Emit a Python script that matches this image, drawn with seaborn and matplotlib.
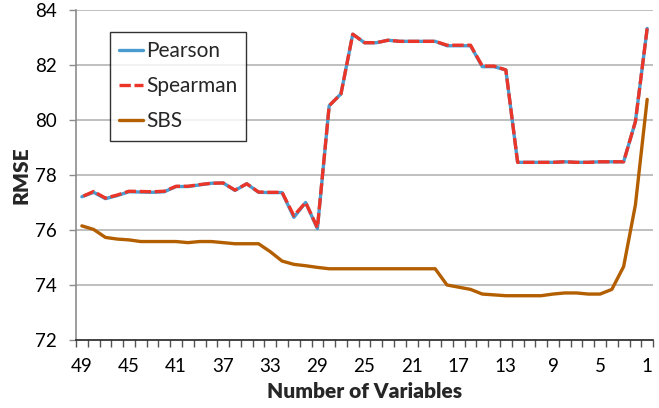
import matplotlib
matplotlib.use("Agg")
import matplotlib.pyplot as plt
import numpy as np
import pandas as pd
import seaborn as sns
from matplotlib.ticker import FixedLocator

n_vars = list(range(49, 0, -1))

pearson = [77.21, 77.37, 77.14, 77.25, 77.39, 77.38, 77.37, 77.39, 77.58, 77.58,
           77.64, 77.70, 77.71, 77.44, 77.68, 77.37, 77.36, 77.36, 76.46, 77.00,
           76.05, 80.52, 80.95, 83.12, 82.81, 82.81, 82.90, 82.86, 82.86, 82.86,
           82.86, 82.70, 82.70, 82.70, 81.94, 81.94, 81.82, 78.46, 78.46, 78.46,
           78.46, 78.48, 78.46, 78.46, 78.48, 78.48, 78.48, 79.94, 83.33]

spearman = [77.21, 77.40, 77.16, 77.27, 77.41, 77.40, 77.39, 77.41, 77.59, 77.59,
            77.65, 77.70, 77.71, 77.45, 77.68, 77.38, 77.37, 77.37, 76.52, 77.00,
            76.08, 80.52, 80.95, 83.12, 82.81, 82.81, 82.90, 82.86, 82.86, 82.86,
            82.86, 82.72, 82.72, 82.72, 81.96, 81.96, 81.82, 78.46, 78.46, 78.46,
            78.46, 78.48, 78.46, 78.46, 78.48, 78.48, 78.48, 79.94, 83.33]

sbs = [76.15, 76.02, 75.73, 75.67, 75.64, 75.58, 75.58, 75.58, 75.58, 75.54,
       75.58, 75.58, 75.54, 75.50, 75.50, 75.50, 75.21, 74.87, 74.75, 74.70,
       74.64, 74.59, 74.59, 74.59, 74.59, 74.59, 74.59, 74.59, 74.59, 74.59,
       74.59, 74.00, 73.92, 73.84, 73.67, 73.64, 73.61, 73.61, 73.61, 73.61,
       73.67, 73.71, 73.71, 73.67, 73.67, 73.84, 74.67, 76.91, 80.75]

x_labels = list(range(49, 0, -4))
y_ticks = [72, 74, 76, 78, 80, 82, 84]

sns.set_theme(style="white")
plt.rcParams["font.family"] = ["Lato", "DejaVu Sans"]

df = pd.DataFrame({"n": n_vars, "Pearson": pearson, "Spearman": spearman, "SBS": sbs})

fig = plt.figure(figsize=(6.59, 4.08), dpi=100)
ax = fig.add_axes([0.1153, 0.1667, 0.8757, 0.8088])

for y in y_ticks[1:]:
    ax.axhline(y, color="#bababa", linewidth=1.3, zorder=0)

sns.lineplot(data=df, x="n", y="Pearson", ax=ax, color="#4a9bd0", linewidth=2.4, label="Pearson")
sns.lineplot(data=df, x="n", y="Spearman", ax=ax, color="#ea3528", linewidth=2.4,
             dashes=False, label="Spearman")
ax.lines[-1].set_dashes((3.4, 1.1))
sns.lineplot(data=df, x="n", y="SBS", ax=ax, color="#b35f00", linewidth=2.4, label="SBS")

ax.set_xlim(49.5, 0.5)
ax.set_ylim(72, 84)
ax.set_yticks(y_ticks)
ax.set_xticks(x_labels)
ax.xaxis.set_minor_locator(FixedLocator(np.arange(49.5, 0, -1)))
ax.tick_params(axis="x", which="major", length=0, pad=13, labelsize=13.5, colors="black")
ax.tick_params(axis="x", which="minor", length=5, width=1, color="#555555", direction="out", bottom=True)
ax.tick_params(axis="y", which="major", length=5, width=1, color="#8c8c8c", direction="out",
               left=True, labelsize=13.5, labelcolor="black", pad=9)

for side in ("top", "right"):
    ax.spines[side].set_visible(False)
ax.spines["left"].set_color("#8c8c8c")
ax.spines["bottom"].set_color("#222222")
ax.spines["left"].set_linewidth(1.2)
ax.spines["bottom"].set_linewidth(1.2)

ax.set_xlabel("Number of Variables", fontsize=15, fontweight="heavy", labelpad=5)
ax.set_ylabel("RMSE", fontsize=15, fontweight="heavy", labelpad=3)

leg = ax.legend(loc="upper left", bbox_to_anchor=(0.059, 0.933), frameon=True, fancybox=False,
                fontsize=15, handlelength=1.15, handletextpad=0.12, borderpad=0.45,
                labelspacing=0.72, borderaxespad=0)
leg.get_frame().set_edgecolor("black")
leg.get_frame().set_linewidth(1.0)

fig.savefig("out.png", dpi=100)
